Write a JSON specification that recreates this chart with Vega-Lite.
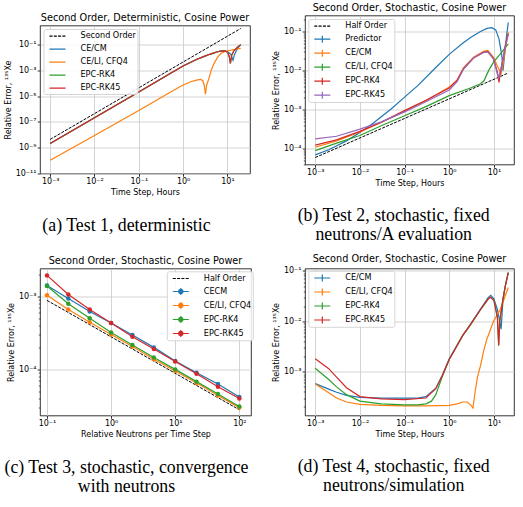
{
  "$schema": "https://vega.github.io/schema/vega-lite/v6.json",
  "padding": {"left": 3, "top": 1.5, "right": 2, "bottom": 2},
  "config": {
    "view": {"stroke": null},
    "font": "DejaVu Sans",
    "axis": {
      "labelFont": "DejaVu Sans", "labelFontSize": 8, "labelColor": "black",
      "titleFont": "DejaVu Sans", "titleFontSize": 8, "titleFontWeight": "normal", "titleColor": "black",
      "tickColor": "black", "tickSize": 2.8, "tickWidth": 0.8, "domain": false,
      "grid": true, "gridColor": "#c8c8c8", "gridWidth": 0.8,
      "labelPadding": 1.2, "titlePadding": 3, "labelFlush": false, "labelOverlap": false
    },
    "title": {"font": "DejaVu Sans", "fontSize": 9.7, "fontWeight": "normal", "color": "black", "offset": 3, "anchor": "middle"},
    "legend": {
      "labelFont": "DejaVu Sans", "labelFontSize": 8.1, "labelColor": "black",
      "padding": 1, "rowPadding": 2, "symbolSize": 100, "symbolStrokeWidth": 1.2,
      "symbolOffset": 6.8, "labelOffset": 17,
      "strokeColor": "#cccccc", "strokeWidth": 0.8, "fillColor": "rgba(255,255,255,0.85)", "cornerRadius": 2,
      "orient": "none"
    },
    "line": {"strokeWidth": 1.2}
  },
  "datasets": {
    "a": [
      {"s": "Second Order", "t": 0.001, "e": 4.4e-9}, {"s": "Second Order", "t": 20, "e": 1.76},
      {"s": "CE/CM", "t": 0.001, "e": 2.1e-9}, {"s": "CE/CM", "t": 0.01, "e": 2.1e-7}, {"s": "CE/CM", "t": 0.1, "e": 2.1e-5},
      {"s": "CE/CM", "t": 0.5, "e": 5.5e-4}, {"s": "CE/CM", "t": 1, "e": 2.2e-3}, {"s": "CE/CM", "t": 2, "e": 7e-3},
      {"s": "CE/CM", "t": 3, "e": 1.2e-2}, {"s": "CE/CM", "t": 4, "e": 1.75e-2}, {"s": "CE/CM", "t": 5, "e": 2.25e-2},
      {"s": "CE/CM", "t": 6, "e": 2.75e-2}, {"s": "CE/CM", "t": 7, "e": 3.1e-2}, {"s": "CE/CM", "t": 8, "e": 3.2e-2},
      {"s": "CE/CM", "t": 9, "e": 3.1e-2}, {"s": "CE/CM", "t": 10, "e": 2.7e-2}, {"s": "CE/CM", "t": 11, "e": 2.2e-2},
      {"s": "CE/CM", "t": 12, "e": 1.7e-2}, {"s": "CE/CM", "t": 13.4, "e": 6e-3}, {"s": "CE/CM", "t": 14.5, "e": 1.7e-2},
      {"s": "CE/CM", "t": 16, "e": 3.5e-2}, {"s": "CE/CM", "t": 18, "e": 6.5e-2}, {"s": "CE/CM", "t": 20, "e": 9.5e-2},
      {"s": "CE/LI, CFQ4", "t": 0.001, "e": 1.05e-10}, {"s": "CE/LI, CFQ4", "t": 0.01, "e": 9e-9}, {"s": "CE/LI, CFQ4", "t": 0.1, "e": 7.6e-7},
      {"s": "CE/LI, CFQ4", "t": 0.5, "e": 1.9e-5}, {"s": "CE/LI, CFQ4", "t": 1, "e": 7.4e-5}, {"s": "CE/LI, CFQ4", "t": 1.5, "e": 1.3e-4},
      {"s": "CE/LI, CFQ4", "t": 2, "e": 1.75e-4}, {"s": "CE/LI, CFQ4", "t": 2.5, "e": 2e-4}, {"s": "CE/LI, CFQ4", "t": 2.8, "e": 1.5e-4},
      {"s": "CE/LI, CFQ4", "t": 3.0, "e": 7e-5}, {"s": "CE/LI, CFQ4", "t": 3.2, "e": 1.4e-5}, {"s": "CE/LI, CFQ4", "t": 3.4, "e": 7e-5},
      {"s": "CE/LI, CFQ4", "t": 3.85, "e": 2.5e-4}, {"s": "CE/LI, CFQ4", "t": 4.3, "e": 1e-3}, {"s": "CE/LI, CFQ4", "t": 5, "e": 3.5e-3},
      {"s": "CE/LI, CFQ4", "t": 6, "e": 1e-2}, {"s": "CE/LI, CFQ4", "t": 7.1, "e": 2e-2}, {"s": "CE/LI, CFQ4", "t": 9, "e": 3e-2},
      {"s": "CE/LI, CFQ4", "t": 11.7, "e": 3.6e-2}, {"s": "CE/LI, CFQ4", "t": 15, "e": 4.2e-2}, {"s": "CE/LI, CFQ4", "t": 20, "e": 5e-2},
      {"s": "EPC-RK4", "t": 0.001, "e": 2.1e-9}, {"s": "EPC-RK4", "t": 0.01, "e": 2.1e-7}, {"s": "EPC-RK4", "t": 0.1, "e": 2.1e-5},
      {"s": "EPC-RK4", "t": 0.5, "e": 5.5e-4}, {"s": "EPC-RK4", "t": 1, "e": 2.2e-3}, {"s": "EPC-RK4", "t": 2, "e": 7e-3},
      {"s": "EPC-RK4", "t": 3, "e": 1.2e-2}, {"s": "EPC-RK4", "t": 4, "e": 1.75e-2}, {"s": "EPC-RK4", "t": 5, "e": 2.25e-2},
      {"s": "EPC-RK4", "t": 6, "e": 2.75e-2}, {"s": "EPC-RK4", "t": 7, "e": 3.1e-2}, {"s": "EPC-RK4", "t": 8, "e": 3.2e-2},
      {"s": "EPC-RK4", "t": 9, "e": 3.1e-2}, {"s": "EPC-RK4", "t": 10, "e": 2.7e-2}, {"s": "EPC-RK4", "t": 11, "e": 1.2e-2},
      {"s": "EPC-RK4", "t": 11.7, "e": 3.5e-3}, {"s": "EPC-RK4", "t": 12.5, "e": 1.5e-2}, {"s": "EPC-RK4", "t": 14, "e": 3.3e-2},
      {"s": "EPC-RK4", "t": 16, "e": 5.3e-2}, {"s": "EPC-RK4", "t": 18, "e": 7.5e-2}, {"s": "EPC-RK4", "t": 20, "e": 9.5e-2},
      {"s": "EPC-RK45", "t": 0.001, "e": 2.1e-9}, {"s": "EPC-RK45", "t": 0.01, "e": 2.1e-7}, {"s": "EPC-RK45", "t": 0.1, "e": 2.1e-5},
      {"s": "EPC-RK45", "t": 0.5, "e": 5.5e-4}, {"s": "EPC-RK45", "t": 1, "e": 2.2e-3}, {"s": "EPC-RK45", "t": 2, "e": 7e-3},
      {"s": "EPC-RK45", "t": 3, "e": 1.2e-2}, {"s": "EPC-RK45", "t": 4, "e": 1.75e-2}, {"s": "EPC-RK45", "t": 5, "e": 2.25e-2},
      {"s": "EPC-RK45", "t": 6, "e": 2.75e-2}, {"s": "EPC-RK45", "t": 7, "e": 3.1e-2}, {"s": "EPC-RK45", "t": 8, "e": 3.2e-2},
      {"s": "EPC-RK45", "t": 9, "e": 3.1e-2}, {"s": "EPC-RK45", "t": 10, "e": 2.7e-2}, {"s": "EPC-RK45", "t": 11, "e": 1.2e-2},
      {"s": "EPC-RK45", "t": 11.7, "e": 3.5e-3}, {"s": "EPC-RK45", "t": 12.5, "e": 1.5e-2}, {"s": "EPC-RK45", "t": 14, "e": 3.3e-2},
      {"s": "EPC-RK45", "t": 16, "e": 5.3e-2}, {"s": "EPC-RK45", "t": 18, "e": 7.5e-2}, {"s": "EPC-RK45", "t": 20, "e": 9.5e-2}
    ],
    "b": [
      {"s": "Half Order", "t": 0.001, "e": 6.0e-5}, {"s": "Half Order", "t": 21, "e": 8.7e-3},
      {"s": "Predictor", "t": 0.001, "e": 7e-5}, {"s": "Predictor", "t": 0.002, "e": 9.5e-5}, {"s": "Predictor", "t": 0.005, "e": 1.6e-4},
      {"s": "Predictor", "t": 0.01, "e": 2.6e-4}, {"s": "Predictor", "t": 0.02, "e": 4.6e-4}, {"s": "Predictor", "t": 0.05, "e": 1.05e-3},
      {"s": "Predictor", "t": 0.1, "e": 2.1e-3}, {"s": "Predictor", "t": 0.2, "e": 4.2e-3}, {"s": "Predictor", "t": 0.5, "e": 1.2e-2},
      {"s": "Predictor", "t": 1, "e": 2.6e-2}, {"s": "Predictor", "t": 2, "e": 5e-2}, {"s": "Predictor", "t": 3, "e": 7e-2},
      {"s": "Predictor", "t": 5, "e": 0.1}, {"s": "Predictor", "t": 7, "e": 0.12}, {"s": "Predictor", "t": 9, "e": 0.125},
      {"s": "Predictor", "t": 11, "e": 0.11}, {"s": "Predictor", "t": 13, "e": 0.065}, {"s": "Predictor", "t": 15, "e": 0.025},
      {"s": "Predictor", "t": 16, "e": 0.01}, {"s": "Predictor", "t": 17, "e": 0.02}, {"s": "Predictor", "t": 19, "e": 0.07},
      {"s": "Predictor", "t": 21, "e": 0.17},
      {"s": "CE/CM", "t": 0.001, "e": 1.1e-4}, {"s": "CE/CM", "t": 0.003, "e": 1.6e-4}, {"s": "CE/CM", "t": 0.01, "e": 2.7e-4},
      {"s": "CE/CM", "t": 0.03, "e": 4.7e-4}, {"s": "CE/CM", "t": 0.1, "e": 9.2e-4}, {"s": "CE/CM", "t": 0.3, "e": 1.7e-3},
      {"s": "CE/CM", "t": 1, "e": 3.8e-3}, {"s": "CE/CM", "t": 1.5, "e": 5.8e-3}, {"s": "CE/CM", "t": 2.1, "e": 1.2e-2},
      {"s": "CE/CM", "t": 3.5, "e": 2.2e-2}, {"s": "CE/CM", "t": 5.9, "e": 3.1e-2}, {"s": "CE/CM", "t": 7.3, "e": 3.3e-2},
      {"s": "CE/CM", "t": 9.8, "e": 2.2e-2}, {"s": "CE/CM", "t": 12, "e": 1.3e-2}, {"s": "CE/CM", "t": 14.5, "e": 8.5e-3},
      {"s": "CE/CM", "t": 16, "e": 1.4e-2}, {"s": "CE/CM", "t": 18, "e": 3.5e-2}, {"s": "CE/CM", "t": 21, "e": 9.5e-2},
      {"s": "CE/LI, CFQ4", "t": 0.001, "e": 9e-5}, {"s": "CE/LI, CFQ4", "t": 0.003, "e": 1.4e-4}, {"s": "CE/LI, CFQ4", "t": 0.01, "e": 2.2e-4},
      {"s": "CE/LI, CFQ4", "t": 0.03, "e": 3.9e-4}, {"s": "CE/LI, CFQ4", "t": 0.1, "e": 7e-4}, {"s": "CE/LI, CFQ4", "t": 0.3, "e": 1.2e-3},
      {"s": "CE/LI, CFQ4", "t": 1, "e": 2.3e-3}, {"s": "CE/LI, CFQ4", "t": 3, "e": 3.6e-3}, {"s": "CE/LI, CFQ4", "t": 5, "e": 4.6e-3},
      {"s": "CE/LI, CFQ4", "t": 6, "e": 5.5e-3}, {"s": "CE/LI, CFQ4", "t": 7.6, "e": 1e-2}, {"s": "CE/LI, CFQ4", "t": 10, "e": 1.7e-2},
      {"s": "CE/LI, CFQ4", "t": 14, "e": 2.7e-2}, {"s": "CE/LI, CFQ4", "t": 21, "e": 4.8e-2},
      {"s": "EPC-RK4", "t": 0.001, "e": 1.25e-4}, {"s": "EPC-RK4", "t": 0.003, "e": 1.7e-4}, {"s": "EPC-RK4", "t": 0.01, "e": 2.8e-4},
      {"s": "EPC-RK4", "t": 0.03, "e": 4.8e-4}, {"s": "EPC-RK4", "t": 0.1, "e": 9.5e-4}, {"s": "EPC-RK4", "t": 0.3, "e": 1.75e-3},
      {"s": "EPC-RK4", "t": 1, "e": 3.6e-3}, {"s": "EPC-RK4", "t": 1.5, "e": 5.6e-3}, {"s": "EPC-RK4", "t": 2.1, "e": 1.15e-2},
      {"s": "EPC-RK4", "t": 3.5, "e": 2.1e-2}, {"s": "EPC-RK4", "t": 5.9, "e": 3.0e-2}, {"s": "EPC-RK4", "t": 7.3, "e": 3.1e-2},
      {"s": "EPC-RK4", "t": 9.8, "e": 2.0e-2}, {"s": "EPC-RK4", "t": 12, "e": 9e-3}, {"s": "EPC-RK4", "t": 13, "e": 5e-3},
      {"s": "EPC-RK4", "t": 14, "e": 9e-3}, {"s": "EPC-RK4", "t": 16, "e": 2e-2}, {"s": "EPC-RK4", "t": 18, "e": 4.5e-2},
      {"s": "EPC-RK4", "t": 21, "e": 9e-2},
      {"s": "EPC-RK45", "t": 0.001, "e": 1.8e-4}, {"s": "EPC-RK45", "t": 0.003, "e": 2.1e-4}, {"s": "EPC-RK45", "t": 0.01, "e": 3.2e-4},
      {"s": "EPC-RK45", "t": 0.03, "e": 4.9e-4}, {"s": "EPC-RK45", "t": 0.1, "e": 8.8e-4}, {"s": "EPC-RK45", "t": 0.3, "e": 1.6e-3},
      {"s": "EPC-RK45", "t": 1, "e": 3.2e-3}, {"s": "EPC-RK45", "t": 1.5, "e": 5.2e-3}, {"s": "EPC-RK45", "t": 2.1, "e": 1.1e-2},
      {"s": "EPC-RK45", "t": 3.5, "e": 2.1e-2}, {"s": "EPC-RK45", "t": 5.9, "e": 2.9e-2}, {"s": "EPC-RK45", "t": 7.3, "e": 3.0e-2},
      {"s": "EPC-RK45", "t": 9.8, "e": 2.0e-2}, {"s": "EPC-RK45", "t": 12, "e": 8e-3}, {"s": "EPC-RK45", "t": 12.8, "e": 6.5e-3},
      {"s": "EPC-RK45", "t": 14, "e": 1e-2}, {"s": "EPC-RK45", "t": 16, "e": 2e-2}, {"s": "EPC-RK45", "t": 18, "e": 4e-2},
      {"s": "EPC-RK45", "t": 21, "e": 8.5e-2}
    ],
    "c": [
      {"s": "Half Order", "n": 0.1, "e": 8.8e-4}, {"s": "Half Order", "n": 100, "e": 2.8e-5},
      {"s": "CECM", "n": 0.1, "e": 1.41e-3}, {"s": "CECM", "n": 0.215, "e": 9.3e-4}, {"s": "CECM", "n": 0.464, "e": 6.2e-4},
      {"s": "CECM", "n": 1, "e": 4.3e-4}, {"s": "CECM", "n": 2.15, "e": 2.96e-4}, {"s": "CECM", "n": 4.64, "e": 2.0e-4},
      {"s": "CECM", "n": 10, "e": 1.3e-4}, {"s": "CECM", "n": 21.5, "e": 9.0e-5}, {"s": "CECM", "n": 46.4, "e": 6.3e-5},
      {"s": "CECM", "n": 100, "e": 4.2e-5},
      {"s": "CE/LI, CFQ4", "n": 0.1, "e": 1.03e-3}, {"s": "CE/LI, CFQ4", "n": 0.215, "e": 6.6e-4}, {"s": "CE/LI, CFQ4", "n": 0.464, "e": 4.4e-4},
      {"s": "CE/LI, CFQ4", "n": 1, "e": 3.0e-4}, {"s": "CE/LI, CFQ4", "n": 2.15, "e": 2.05e-4}, {"s": "CE/LI, CFQ4", "n": 4.64, "e": 1.38e-4},
      {"s": "CE/LI, CFQ4", "n": 10, "e": 9.5e-5}, {"s": "CE/LI, CFQ4", "n": 21.5, "e": 6.5e-5}, {"s": "CE/LI, CFQ4", "n": 46.4, "e": 4.4e-5},
      {"s": "CE/LI, CFQ4", "n": 100, "e": 3.0e-5},
      {"s": "EPC-RK4", "n": 0.1, "e": 1.38e-3}, {"s": "EPC-RK4", "n": 0.215, "e": 7.9e-4}, {"s": "EPC-RK4", "n": 0.464, "e": 5.0e-4},
      {"s": "EPC-RK4", "n": 1, "e": 3.2e-4}, {"s": "EPC-RK4", "n": 2.15, "e": 2.15e-4}, {"s": "EPC-RK4", "n": 4.64, "e": 1.45e-4},
      {"s": "EPC-RK4", "n": 10, "e": 1.0e-4}, {"s": "EPC-RK4", "n": 21.5, "e": 6.8e-5}, {"s": "EPC-RK4", "n": 46.4, "e": 4.6e-5},
      {"s": "EPC-RK4", "n": 100, "e": 3.1e-5},
      {"s": "EPC-RK45", "n": 0.1, "e": 1.93e-3}, {"s": "EPC-RK45", "n": 0.215, "e": 1.06e-3}, {"s": "EPC-RK45", "n": 0.464, "e": 6.6e-4},
      {"s": "EPC-RK45", "n": 1, "e": 4.3e-4}, {"s": "EPC-RK45", "n": 2.15, "e": 2.8e-4}, {"s": "EPC-RK45", "n": 4.64, "e": 1.9e-4},
      {"s": "EPC-RK45", "n": 10, "e": 1.28e-4}, {"s": "EPC-RK45", "n": 21.5, "e": 8.7e-5}, {"s": "EPC-RK45", "n": 46.4, "e": 5.8e-5},
      {"s": "EPC-RK45", "n": 100, "e": 4.0e-5}
    ],
    "d": [
      {"s": "CE/CM", "t": 0.001, "e": 5.8e-4}, {"s": "CE/CM", "t": 0.002, "e": 4.5e-4}, {"s": "CE/CM", "t": 0.003, "e": 3.9e-4},
      {"s": "CE/CM", "t": 0.005, "e": 3.4e-4}, {"s": "CE/CM", "t": 0.01, "e": 3.1e-4}, {"s": "CE/CM", "t": 0.03, "e": 3.0e-4},
      {"s": "CE/CM", "t": 0.1, "e": 3.0e-4}, {"s": "CE/CM", "t": 0.2, "e": 3.0e-4}, {"s": "CE/CM", "t": 0.3, "e": 3.2e-4},
      {"s": "CE/CM", "t": 0.5, "e": 4.7e-4}, {"s": "CE/CM", "t": 0.7, "e": 8.5e-4}, {"s": "CE/CM", "t": 1, "e": 1.8e-3},
      {"s": "CE/CM", "t": 2, "e": 5.3e-3}, {"s": "CE/CM", "t": 3, "e": 8.8e-3}, {"s": "CE/CM", "t": 5, "e": 1.75e-2},
      {"s": "CE/CM", "t": 7.5, "e": 3.0e-2}, {"s": "CE/CM", "t": 8.5, "e": 3.3e-2}, {"s": "CE/CM", "t": 10, "e": 2.8e-2},
      {"s": "CE/CM", "t": 12, "e": 1.7e-2}, {"s": "CE/CM", "t": 13, "e": 1.2e-2}, {"s": "CE/CM", "t": 14.5, "e": 7e-3},
      {"s": "CE/CM", "t": 16, "e": 2.7e-2}, {"s": "CE/CM", "t": 18, "e": 5e-2}, {"s": "CE/CM", "t": 21, "e": 9.3e-2},
      {"s": "CE/LI, CFQ4", "t": 0.001, "e": 5.7e-4}, {"s": "CE/LI, CFQ4", "t": 0.002, "e": 3.8e-4}, {"s": "CE/LI, CFQ4", "t": 0.003, "e": 3.0e-4},
      {"s": "CE/LI, CFQ4", "t": 0.005, "e": 2.5e-4}, {"s": "CE/LI, CFQ4", "t": 0.01, "e": 2.25e-4}, {"s": "CE/LI, CFQ4", "t": 0.03, "e": 2.15e-4},
      {"s": "CE/LI, CFQ4", "t": 0.1, "e": 2.1e-4}, {"s": "CE/LI, CFQ4", "t": 0.3, "e": 2.1e-4}, {"s": "CE/LI, CFQ4", "t": 1, "e": 2.15e-4},
      {"s": "CE/LI, CFQ4", "t": 1.5, "e": 2.3e-4}, {"s": "CE/LI, CFQ4", "t": 2, "e": 2.5e-4}, {"s": "CE/LI, CFQ4", "t": 2.5, "e": 2.5e-4},
      {"s": "CE/LI, CFQ4", "t": 3.0, "e": 2.2e-4}, {"s": "CE/LI, CFQ4", "t": 3.4, "e": 1.9e-4}, {"s": "CE/LI, CFQ4", "t": 3.8, "e": 4e-4},
      {"s": "CE/LI, CFQ4", "t": 4.3, "e": 8e-4}, {"s": "CE/LI, CFQ4", "t": 5, "e": 1.3e-3}, {"s": "CE/LI, CFQ4", "t": 5.9, "e": 2.6e-3},
      {"s": "CE/LI, CFQ4", "t": 6.9, "e": 4.3e-3}, {"s": "CE/LI, CFQ4", "t": 9.8, "e": 1e-2}, {"s": "CE/LI, CFQ4", "t": 13.8, "e": 1.7e-2},
      {"s": "CE/LI, CFQ4", "t": 17, "e": 2.8e-2}, {"s": "CE/LI, CFQ4", "t": 21, "e": 4.7e-2},
      {"s": "EPC-RK4", "t": 0.001, "e": 1.17e-3}, {"s": "EPC-RK4", "t": 0.002, "e": 7e-4}, {"s": "EPC-RK4", "t": 0.003, "e": 5e-4},
      {"s": "EPC-RK4", "t": 0.005, "e": 3.5e-4}, {"s": "EPC-RK4", "t": 0.01, "e": 2.6e-4}, {"s": "EPC-RK4", "t": 0.03, "e": 2.3e-4},
      {"s": "EPC-RK4", "t": 0.1, "e": 2.2e-4}, {"s": "EPC-RK4", "t": 0.2, "e": 2.2e-4}, {"s": "EPC-RK4", "t": 0.3, "e": 2.3e-4},
      {"s": "EPC-RK4", "t": 0.4, "e": 2.6e-4}, {"s": "EPC-RK4", "t": 0.5, "e": 3.5e-4}, {"s": "EPC-RK4", "t": 0.7, "e": 8e-4},
      {"s": "EPC-RK4", "t": 1, "e": 1.75e-3}, {"s": "EPC-RK4", "t": 2, "e": 5.2e-3}, {"s": "EPC-RK4", "t": 3, "e": 8.6e-3},
      {"s": "EPC-RK4", "t": 5, "e": 1.7e-2}, {"s": "EPC-RK4", "t": 7.5, "e": 2.8e-2}, {"s": "EPC-RK4", "t": 8.5, "e": 3.0e-2},
      {"s": "EPC-RK4", "t": 10, "e": 2.6e-2}, {"s": "EPC-RK4", "t": 12, "e": 1.2e-2}, {"s": "EPC-RK4", "t": 12.8, "e": 3.3e-3},
      {"s": "EPC-RK4", "t": 13.5, "e": 1e-2}, {"s": "EPC-RK4", "t": 16, "e": 2.8e-2}, {"s": "EPC-RK4", "t": 18, "e": 5e-2},
      {"s": "EPC-RK4", "t": 21, "e": 9.3e-2},
      {"s": "EPC-RK45", "t": 0.001, "e": 1.8e-3}, {"s": "EPC-RK45", "t": 0.002, "e": 1.15e-3}, {"s": "EPC-RK45", "t": 0.003, "e": 7.8e-4},
      {"s": "EPC-RK45", "t": 0.005, "e": 4.8e-4}, {"s": "EPC-RK45", "t": 0.01, "e": 3.2e-4}, {"s": "EPC-RK45", "t": 0.03, "e": 2.9e-4},
      {"s": "EPC-RK45", "t": 0.1, "e": 2.8e-4}, {"s": "EPC-RK45", "t": 0.3, "e": 3.0e-4}, {"s": "EPC-RK45", "t": 0.5, "e": 4.6e-4},
      {"s": "EPC-RK45", "t": 0.7, "e": 8.4e-4}, {"s": "EPC-RK45", "t": 1, "e": 1.75e-3}, {"s": "EPC-RK45", "t": 2, "e": 5.2e-3},
      {"s": "EPC-RK45", "t": 3, "e": 8.6e-3}, {"s": "EPC-RK45", "t": 5, "e": 1.7e-2}, {"s": "EPC-RK45", "t": 7.5, "e": 2.8e-2},
      {"s": "EPC-RK45", "t": 8.5, "e": 3.0e-2}, {"s": "EPC-RK45", "t": 10, "e": 2.6e-2}, {"s": "EPC-RK45", "t": 12, "e": 1.2e-2},
      {"s": "EPC-RK45", "t": 12.8, "e": 3.3e-3}, {"s": "EPC-RK45", "t": 13.5, "e": 1e-2}, {"s": "EPC-RK45", "t": 16, "e": 2.8e-2},
      {"s": "EPC-RK45", "t": 18, "e": 5e-2}, {"s": "EPC-RK45", "t": 21, "e": 9.3e-2}
    ]
  },
  "hconcat": [
    {
      "vconcat": [
        {"width": 10, "height": 10, "data": {"values": []}, "mark": "text", "encoding": {"text": {"value": ""}}},
        {
          "width": 210, "height": 148,
          "view": {"stroke": "black", "strokeWidth": 0.8},
          "title": "Second Order, Deterministic, Cosine Power",
          "data": {"name": "a"},
          "encoding": {
            "x": {"field": "t", "type": "quantitative", "scale": {"type": "log", "domain": [0.000589, 32.4], "nice": false},
              "axis": {"title": "Time Step, Hours", "values": [0.001, 0.01, 0.1, 1, 10],
                "labelExpr": "'10' + (datum.value < 1 ? '⁻' : '') + (abs(round(log(datum.value) / LN10)) >= 10 ? '¹' : '') + substring('⁰¹²³⁴⁵⁶⁷⁸⁹', abs(round(log(datum.value) / LN10)) % 10, abs(round(log(datum.value) / LN10)) % 10 + 1)"}},
            "y": {"field": "e", "type": "quantitative", "scale": {"type": "log", "domain": [1e-11, 3.0], "nice": false},
              "axis": {"title": "Relative Error, ¹³⁵Xe", "values": [1e-11, 1e-9, 1e-7, 1e-5, 1e-3, 1e-1],
                "labelExpr": "'10' + (datum.value < 1 ? '⁻' : '') + (abs(round(log(datum.value) / LN10)) >= 10 ? '¹' : '') + substring('⁰¹²³⁴⁵⁶⁷⁸⁹', abs(round(log(datum.value) / LN10)) % 10, abs(round(log(datum.value) / LN10)) % 10 + 1)"}},
            "color": {"field": "s", "type": "nominal",
              "scale": {"domain": ["Second Order", "CE/CM", "CE/LI, CFQ4", "EPC-RK4", "EPC-RK45"], "range": ["black", "#1f77b4", "#ff7f0e", "#2ca02c", "#d62728"]},
              "legend": {"title": null, "legendX": 3.7, "legendY": 3.7, "symbolType": "M-1.6,0H1.6",
                "symbolDash": {"expr": "datum.value === 'Second Order' ? [3, 1.3] : [1, 0]"}}}
          },
          "layer": [
            {"transform": [{"filter": "datum.s === 'Second Order'"}], "mark": {"type": "line", "strokeDash": [3, 1.3], "strokeWidth": 1}},
            {"transform": [{"filter": "datum.s !== 'Second Order'"}], "mark": {"type": "line"}}
          ]
        },
        {"width": 173, "height": 94.7, "data": {"values": [{"caption": "(a) Test 1, deterministic"}]},
          "mark": {"type": "text", "font": "Liberation Serif", "fontSize": 17.8, "color": "black", "dy": 4.7, "lineBreak": "\n", "lineHeight": 19.3},
          "encoding": {"text": {"field": "caption"}}},
        {
          "width": 211, "height": 147,
          "view": {"stroke": "black", "strokeWidth": 0.8},
          "title": "Second Order, Stochastic, Cosine Power",
          "data": {"name": "c"},
          "encoding": {
            "x": {"field": "n", "type": "quantitative", "scale": {"type": "log", "domain": [0.0778, 152], "nice": false},
              "axis": {"title": "Relative Neutrons per Time Step", "values": [0.1, 1, 10, 100],
                "labelExpr": "'10' + (datum.value < 1 ? '⁻' : '') + (abs(round(log(datum.value) / LN10)) >= 10 ? '¹' : '') + substring('⁰¹²³⁴⁵⁶⁷⁸⁹', abs(round(log(datum.value) / LN10)) % 10, abs(round(log(datum.value) / LN10)) % 10 + 1)"}},
            "color": {"field": "s", "type": "nominal",
              "scale": {"domain": ["Half Order", "CECM", "CE/LI, CFQ4", "EPC-RK4", "EPC-RK45"], "range": ["black", "#1f77b4", "#ff7f0e", "#2ca02c", "#d62728"]},
              "legend": {"title": null, "legendX": 127, "legendY": 3,
                "symbolType": {"expr": "datum.value === 'Half Order' ? 'M-1.6,0H1.6' : 'M-1.6,0H1.6M0,-0.7V0.7M0.45,0L0.32,0.32L0,0.45L-0.32,0.32L-0.45,0L-0.32,-0.32L0,-0.45L0.32,-0.32Z'"},
                "symbolFillColor": {"expr": "datum.value === 'CECM' ? '#1f77b4' : datum.value === 'CE/LI, CFQ4' ? '#ff7f0e' : datum.value === 'EPC-RK4' ? '#2ca02c' : datum.value === 'EPC-RK45' ? '#d62728' : 'transparent'"},
                "symbolDash": {"expr": "datum.value === 'Half Order' ? [3, 1.3] : [1, 0]"}}}
          },
          "layer": [
            {"transform": [{"filter": "datum.s === 'Half Order'"}], "mark": {"type": "line", "strokeDash": [3, 1.3], "strokeWidth": 1},
              "encoding": {"y": {"field": "e", "type": "quantitative", "scale": {"type": "log", "domain": [2.34e-5, 2.4e-3], "nice": false},
                "axis": {"title": "Relative Error, ¹³⁵Xe", "values": [1e-4, 1e-3],
                  "labelExpr": "'10' + (datum.value < 1 ? '⁻' : '') + (abs(round(log(datum.value) / LN10)) >= 10 ? '¹' : '') + substring('⁰¹²³⁴⁵⁶⁷⁸⁹', abs(round(log(datum.value) / LN10)) % 10, abs(round(log(datum.value) / LN10)) % 10 + 1)"}}}},
            {"transform": [{"filter": "datum.s !== 'Half Order'"}], "mark": {"type": "line"},
              "encoding": {"y": {"field": "e", "type": "quantitative", "axis": null}}},
            {"transform": [{"filter": "datum.s !== 'Half Order'"}], "mark": {"type": "point", "filled": true, "size": 20, "opacity": 1},
              "encoding": {"y": {"field": "e", "type": "quantitative",
                "axis": {"orient": "left", "title": null, "labels": false, "grid": false, "tickSize": 1.7, "tickWidth": 0.6,
                  "values": [3e-5, 4e-5, 5e-5, 6e-5, 7e-5, 8e-5, 9e-5, 2e-4, 3e-4, 4e-4, 5e-4, 6e-4, 7e-4, 8e-4, 9e-4, 2e-3]}}}}
          ],
          "resolve": {"axis": {"y": "independent"}}
        },
        {"width": 173, "height": 80, "data": {"values": [{"caption": "(c) Test 3, stochastic, convergence\nwith neutrons"}]},
          "mark": {"type": "text", "font": "Liberation Serif", "fontSize": 17.8, "color": "black", "dy": 12, "lineBreak": "\n", "lineHeight": 19.3},
          "encoding": {"text": {"field": "caption"}}}
      ],
      "spacing": 0, "bounds": "flush",
      "resolve": {"scale": {"x": "independent", "y": "independent", "color": "independent"}, "legend": {"color": "independent"}}
    },
    {
      "vconcat": [
        {
          "width": 209, "height": 149,
          "view": {"stroke": "black", "strokeWidth": 0.8},
          "title": "Second Order, Stochastic, Cosine Power",
          "data": {"name": "b"},
          "encoding": {
            "x": {"field": "t", "type": "quantitative", "scale": {"type": "log", "domain": [0.000589, 28.2], "nice": false},
              "axis": {"title": "Time Step, Hours", "values": [0.001, 0.01, 0.1, 1, 10],
                "labelExpr": "'10' + (datum.value < 1 ? '⁻' : '') + (abs(round(log(datum.value) / LN10)) >= 10 ? '¹' : '') + substring('⁰¹²³⁴⁵⁶⁷⁸⁹', abs(round(log(datum.value) / LN10)) % 10, abs(round(log(datum.value) / LN10)) % 10 + 1)"}},
            "color": {"field": "s", "type": "nominal",
              "scale": {"domain": ["Half Order", "Predictor", "CE/CM", "CE/LI, CFQ4", "EPC-RK4", "EPC-RK45"], "range": ["black", "#1f77b4", "#ff7f0e", "#2ca02c", "#d62728", "#9467bd"]},
              "legend": {"title": null, "legendX": 3.5, "legendY": 3.7,
                "symbolType": {"expr": "datum.value === 'Half Order' ? 'M-1.6,0H1.6' : 'M-1.6,0H1.6M0,-0.7V0.7'"},
                "symbolDash": {"expr": "datum.value === 'Half Order' ? [3, 1.3] : [1, 0]"}}}
          },
          "layer": [
            {"transform": [{"filter": "datum.s === 'Half Order'"}], "mark": {"type": "line", "strokeDash": [3, 1.3], "strokeWidth": 1},
              "encoding": {"y": {"field": "e", "type": "quantitative", "scale": {"type": "log", "domain": [3.98e-5, 0.257], "nice": false},
                "axis": {"title": "Relative Error, ¹³⁵Xe", "values": [1e-4, 1e-3, 1e-2, 1e-1],
                  "labelExpr": "'10' + (datum.value < 1 ? '⁻' : '') + (abs(round(log(datum.value) / LN10)) >= 10 ? '¹' : '') + substring('⁰¹²³⁴⁵⁶⁷⁸⁹', abs(round(log(datum.value) / LN10)) % 10, abs(round(log(datum.value) / LN10)) % 10 + 1)"}}}},
            {"transform": [{"filter": "datum.s !== 'Half Order'"}], "mark": {"type": "line"},
              "encoding": {"y": {"field": "e", "type": "quantitative",
                "axis": {"orient": "left", "title": null, "labels": false, "grid": false, "tickSize": 1.7, "tickWidth": 0.6,
                  "values": [4e-5, 5e-5, 6e-5, 7e-5, 8e-5, 9e-5, 2e-4, 3e-4, 4e-4, 5e-4, 6e-4, 7e-4, 8e-4, 9e-4, 2e-3, 3e-3, 4e-3, 5e-3, 6e-3, 7e-3, 8e-3, 9e-3, 2e-2, 3e-2, 4e-2, 5e-2, 6e-2, 7e-2, 8e-2, 9e-2, 0.2]}}}}
          ],
          "resolve": {"axis": {"y": "independent"}}
        },
        {"width": 177.4, "height": 104, "data": {"values": [{"caption": "(b) Test 2, stochastic, fixed\nneutrons/A evaluation"}]},
          "mark": {"type": "text", "font": "Liberation Serif", "fontSize": 17.8, "color": "black", "dy": -0.3, "lineBreak": "\n", "lineHeight": 19.3},
          "encoding": {"text": {"field": "caption"}}},
        {
          "width": 209, "height": 147,
          "view": {"stroke": "black", "strokeWidth": 0.8},
          "title": "Second Order, Stochastic, Cosine Power",
          "data": {"name": "d"},
          "encoding": {
            "x": {"field": "t", "type": "quantitative", "scale": {"type": "log", "domain": [0.000589, 28.2], "nice": false},
              "axis": {"title": "Time Step, Hours", "values": [0.001, 0.01, 0.1, 1, 10],
                "labelExpr": "'10' + (datum.value < 1 ? '⁻' : '') + (abs(round(log(datum.value) / LN10)) >= 10 ? '¹' : '') + substring('⁰¹²³⁴⁵⁶⁷⁸⁹', abs(round(log(datum.value) / LN10)) % 10, abs(round(log(datum.value) / LN10)) % 10 + 1)"}},
            "color": {"field": "s", "type": "nominal",
              "scale": {"domain": ["CE/CM", "CE/LI, CFQ4", "EPC-RK4", "EPC-RK45"], "range": ["#1f77b4", "#ff7f0e", "#2ca02c", "#d62728"]},
              "legend": {"title": null, "legendX": 3.5, "legendY": 2.5, "symbolType": "M-1.6,0H1.6M0,-0.7V0.7"}}
          },
          "layer": [
            {"mark": {"type": "line"},
              "encoding": {"y": {"field": "e", "type": "quantitative", "scale": {"type": "log", "domain": [1.35e-4, 0.112], "nice": false},
                "axis": {"title": "Relative Error, ¹³⁵Xe", "values": [1e-3, 1e-2, 1e-1],
                  "labelExpr": "'10' + (datum.value < 1 ? '⁻' : '') + (abs(round(log(datum.value) / LN10)) >= 10 ? '¹' : '') + substring('⁰¹²³⁴⁵⁶⁷⁸⁹', abs(round(log(datum.value) / LN10)) % 10, abs(round(log(datum.value) / LN10)) % 10 + 1)"}}}},
            {"transform": [{"filter": "false"}], "mark": {"type": "line"},
              "encoding": {"y": {"field": "e", "type": "quantitative",
                "axis": {"orient": "left", "title": null, "labels": false, "grid": false, "tickSize": 1.7, "tickWidth": 0.6,
                  "values": [2e-4, 3e-4, 4e-4, 5e-4, 6e-4, 7e-4, 8e-4, 9e-4, 2e-3, 3e-3, 4e-3, 5e-3, 6e-3, 7e-3, 8e-3, 9e-3, 2e-2, 3e-2, 4e-2, 5e-2, 6e-2, 7e-2, 8e-2, 9e-2]}}}}
          ],
          "resolve": {"axis": {"y": "independent"}}
        },
        {"width": 177.4, "height": 80, "data": {"values": [{"caption": "(d) Test 4, stochastic, fixed\nneutrons/simulation"}]},
          "mark": {"type": "text", "font": "Liberation Serif", "fontSize": 17.8, "color": "black", "dy": 11.7, "lineBreak": "\n", "lineHeight": 19.3},
          "encoding": {"text": {"field": "caption"}}}
      ],
      "spacing": 0, "bounds": "flush",
      "resolve": {"scale": {"x": "independent", "y": "independent", "color": "independent"}, "legend": {"color": "independent"}}
    }
  ],
  "spacing": 17,
  "resolve": {"scale": {"x": "independent", "y": "independent", "color": "independent"}, "legend": {"color": "independent"}}
}
